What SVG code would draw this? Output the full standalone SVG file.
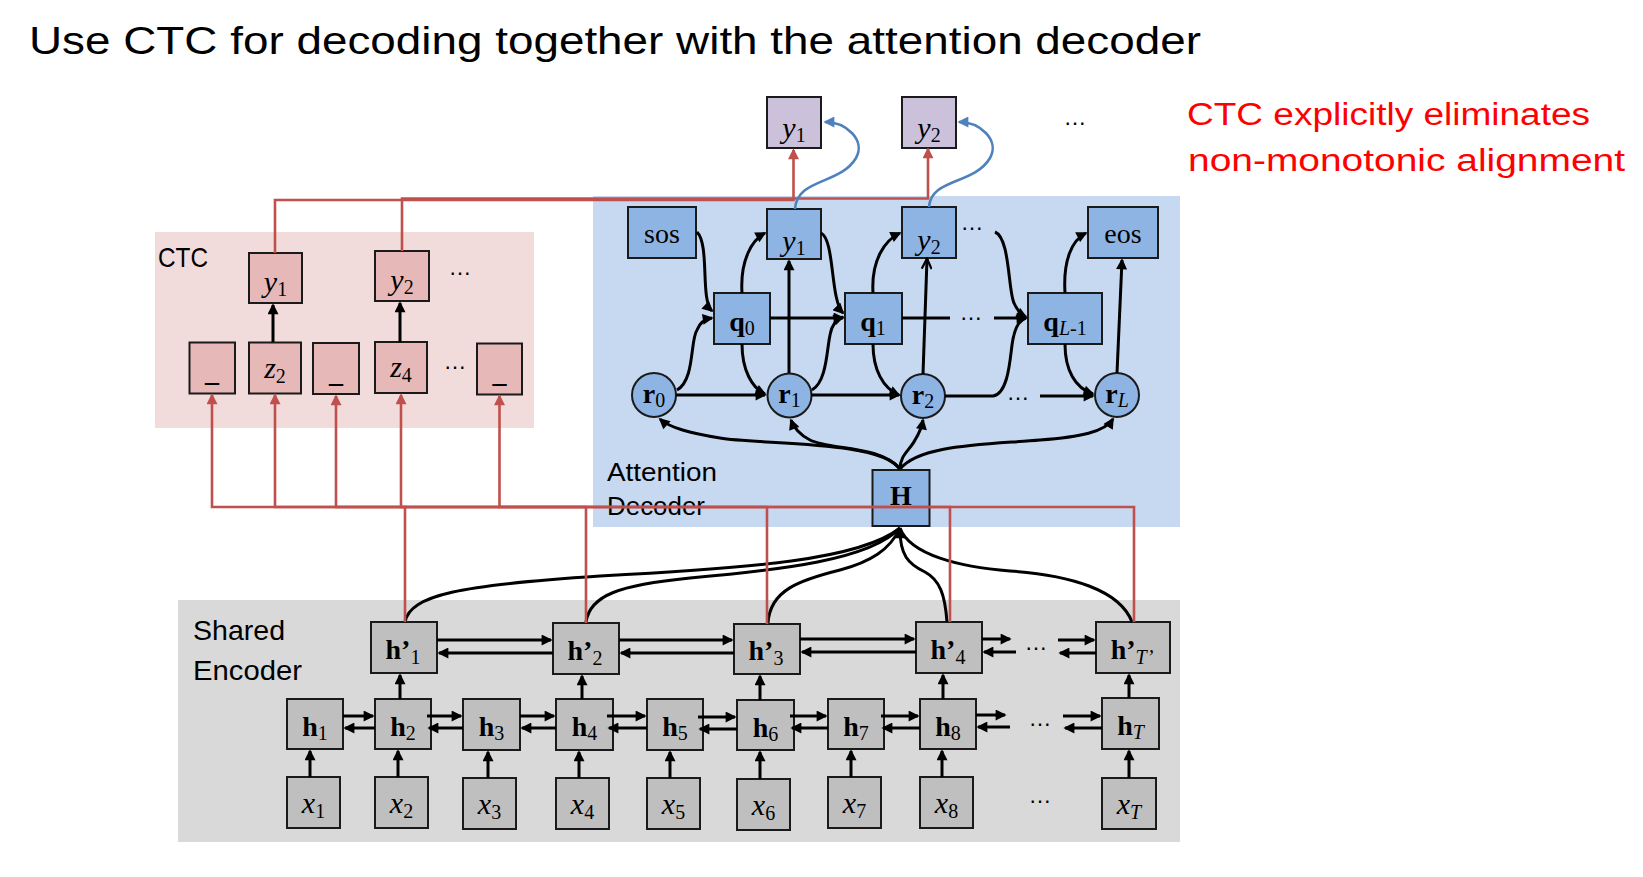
<svg xmlns="http://www.w3.org/2000/svg" width="1643" height="877" viewBox="0 0 1643 877">
<style>
.bgc{fill:#F2DCDB}.bgb{fill:#C6D9F1}.bgg{fill:#D9D9D9}
.nc{fill:#E6B9B8;stroke:#1a1a1a;stroke-width:2}
.nb{fill:#8EB4E3;stroke:#1a1a1a;stroke-width:2}
.ng{fill:#BFBFBF;stroke:#1a1a1a;stroke-width:2}
.np{fill:#CCC1DA;stroke:#1a1a1a;stroke-width:2}
.k{stroke:#000;stroke-width:3;fill:none}
.rd{stroke:#C0504D;stroke-width:2.6;fill:none}
.bl{stroke:#4F81BD;stroke-width:2.6;fill:none}
.t{font-family:"Liberation Serif","Times New Roman",serif;font-size:28px;text-anchor:middle;fill:#000}
.b{font-weight:bold}.i{font-style:italic;font-size:30px}
.s{font-size:20px;font-weight:normal;font-style:normal}
.si{font-size:20px;font-weight:normal;font-style:italic}
.sans{font-family:"Liberation Sans",Arial,sans-serif;fill:#000}
.dots{font-family:"Liberation Sans",Arial,sans-serif;font-size:23px;text-anchor:middle;fill:#000}
</style>
<defs>
<marker id="ak" viewBox="0 0 10 10" refX="8.5" refY="5" markerWidth="12" markerHeight="11" markerUnits="userSpaceOnUse" orient="auto"><path d="M0,0L10,5L0,10z" fill="#000"/></marker>
<marker id="ao" viewBox="0 0 10 10" refX="9" refY="5" markerWidth="12" markerHeight="11" markerUnits="userSpaceOnUse" orient="auto"><path d="M0,0.5L9.5,5L0,9.5" fill="none" stroke="#000" stroke-width="2"/></marker>
<marker id="ar" viewBox="0 0 10 10" refX="8.5" refY="5" markerWidth="12" markerHeight="11" markerUnits="userSpaceOnUse" orient="auto"><path d="M0,0L10,5L0,10z" fill="#C0504D"/></marker>
<marker id="ab" viewBox="0 0 10 10" refX="8.5" refY="5" markerWidth="12" markerHeight="11" markerUnits="userSpaceOnUse" orient="auto"><path d="M0,0L10,5L0,10z" fill="#4F81BD"/></marker>
</defs>
<rect width="1643" height="877" fill="#fff"/>

<text class="sans" x="29" y="54" font-size="39" textLength="1172" lengthAdjust="spacingAndGlyphs">Use CTC for decoding together with the attention decoder</text>
<g fill="#FF0000" font-family="Liberation Sans, Arial, sans-serif" font-size="31">
<text x="1187" y="125" textLength="403" lengthAdjust="spacingAndGlyphs">CTC explicitly eliminates</text>
<text x="1188" y="171" textLength="437" lengthAdjust="spacingAndGlyphs">non-monotonic alignment</text>
</g>

<g id="backgrounds">
<rect class="bgc" x="155" y="232" width="379" height="196"/>
<rect class="bgb" x="593" y="196" width="587" height="331"/>
<rect class="bgg" x="178" y="600" width="1002" height="242"/>
<text class="sans" x="158" y="267" font-size="28" textLength="50" lengthAdjust="spacingAndGlyphs">CTC</text>
<text class="sans" x="607" y="481" font-size="25" textLength="110" lengthAdjust="spacingAndGlyphs">Attention</text>
<text class="sans" x="607" y="515" font-size="25" textLength="98" lengthAdjust="spacingAndGlyphs">Decoder</text>
<text class="sans" x="193" y="640" font-size="28" textLength="92" lengthAdjust="spacingAndGlyphs">Shared</text>
<text class="sans" x="193" y="680" font-size="28" textLength="109" lengthAdjust="spacingAndGlyphs">Encoder</text>
</g>

<g id="out-y1"><rect class="np" x="767" y="97" width="54" height="51"/><text class="t" x="794" y="138"><tspan class="i">y</tspan><tspan class="s" dy="4">1</tspan></text></g>
<g id="out-y2"><rect class="np" x="902" y="97" width="54" height="51"/><text class="t" x="929" y="138"><tspan class="i">y</tspan><tspan class="s" dy="4">2</tspan></text></g>
<text class="dots" x="1075" y="125">…</text>

<g id="sos"><rect class="nb" x="628" y="207" width="68" height="51"/><text class="t" x="662" y="243" font-size="30">sos</text></g>
<g id="dec-y1"><rect class="nb" x="767" y="209" width="54" height="50"/><text class="t" x="794" y="251"><tspan class="i">y</tspan><tspan class="s" dy="4">1</tspan></text></g>
<g id="dec-y2"><rect class="nb" x="902" y="207" width="54" height="51"/><text class="t" x="929" y="250"><tspan class="i">y</tspan><tspan class="s" dy="4">2</tspan></text></g>
<g id="eos"><rect class="nb" x="1088" y="207" width="70" height="51"/><text class="t" x="1123" y="243" font-size="30">eos</text></g>
<g id="q0"><rect class="nb" x="714" y="293" width="56" height="51"/><text class="t" x="742" y="331"><tspan class="b">q</tspan><tspan class="s" dy="4">0</tspan></text></g>
<g id="q1"><rect class="nb" x="845" y="293" width="57" height="51"/><text class="t" x="873" y="331"><tspan class="b">q</tspan><tspan class="s" dy="4">1</tspan></text></g>
<g id="qL"><rect class="nb" x="1028" y="293" width="74" height="51"/><text class="t" x="1065" y="331"><tspan class="b">q</tspan><tspan class="si" dy="4">L</tspan><tspan class="s">-1</tspan></text></g>
<g id="r0"><circle class="nb" cx="654" cy="395" r="22"/><text class="t" x="654" y="403"><tspan class="b">r</tspan><tspan class="s" dy="4">0</tspan></text></g>
<g id="r1"><circle class="nb" cx="789.5" cy="395.5" r="22"/><text class="t" x="789.5" y="403"><tspan class="b">r</tspan><tspan class="s" dy="4">1</tspan></text></g>
<g id="r2"><circle class="nb" cx="923" cy="396" r="22"/><text class="t" x="923" y="404"><tspan class="b">r</tspan><tspan class="s" dy="4">2</tspan></text></g>
<g id="rL"><circle class="nb" cx="1117" cy="395" r="22"/><text class="t" x="1117" y="403"><tspan class="b">r</tspan><tspan class="si" dy="4">L</tspan></text></g>
<g id="H"><rect class="nb" x="872.5" y="470" width="57" height="56"/><text class="t b" x="901" y="505">H</text></g>
<text class="dots" x="972" y="230">…</text>
<text class="dots" x="971" y="320">…</text>
<text class="dots" x="1018" y="400">…</text>

<g id="ctc-y1"><rect class="nc" x="249" y="253" width="53" height="50"/><text class="t" x="275.5" y="292"><tspan class="i">y</tspan><tspan class="s" dy="4">1</tspan></text></g>
<g id="ctc-y2"><rect class="nc" x="375" y="251" width="54" height="50"/><text class="t" x="402" y="290"><tspan class="i">y</tspan><tspan class="s" dy="4">2</tspan></text></g>
<g id="ctc-b1"><rect class="nc" x="189.5" y="342.5" width="45.5" height="51"/><text class="t b" x="212" y="381" font-size="30">_</text></g>
<g id="ctc-z2"><rect class="nc" x="249" y="342.5" width="52" height="51"/><text class="t" x="275" y="378"><tspan class="i">z</tspan><tspan class="s" dy="5">2</tspan></text></g>
<g id="ctc-b3"><rect class="nc" x="313" y="343" width="46" height="51"/><text class="t b" x="336" y="382" font-size="30">_</text></g>
<g id="ctc-z4"><rect class="nc" x="375" y="342" width="52" height="51"/><text class="t" x="401" y="377"><tspan class="i">z</tspan><tspan class="s" dy="5">4</tspan></text></g>
<g id="ctc-b5"><rect class="nc" x="477" y="343.5" width="45" height="51"/><text class="t b" x="499.5" y="382" font-size="30">_</text></g>
<text class="dots" x="460" y="275">…</text>
<text class="dots" x="455" y="369">…</text>

<g id="hp1"><rect class="ng" x="371" y="622" width="66" height="51"/><text class="t" x="403" y="659"><tspan class="b">h’</tspan><tspan class="s" dy="5">1</tspan></text></g>
<g id="hp2"><rect class="ng" x="553" y="623" width="66" height="51"/><text class="t" x="585" y="660"><tspan class="b">h’</tspan><tspan class="s" dy="5">2</tspan></text></g>
<g id="hp3"><rect class="ng" x="734" y="624" width="66" height="50"/><text class="t" x="766" y="660"><tspan class="b">h’</tspan><tspan class="s" dy="5">3</tspan></text></g>
<g id="hp4"><rect class="ng" x="916" y="622" width="66" height="51"/><text class="t" x="948" y="659"><tspan class="b">h’</tspan><tspan class="s" dy="5">4</tspan></text></g>
<g id="hpT"><rect class="ng" x="1096" y="622" width="74" height="51"/><text class="t" x="1132" y="659"><tspan class="b">h’</tspan><tspan class="si" dy="5">T’</tspan></text></g>
<text class="dots" x="1036" y="650">…</text>

<g id="h1"><rect class="ng" x="287" y="699" width="56" height="50"/><text class="t" x="315" y="736"><tspan class="b">h</tspan><tspan class="s" dy="4">1</tspan></text></g>
<g id="h2"><rect class="ng" x="375" y="699" width="56" height="50"/><text class="t" x="403" y="736"><tspan class="b">h</tspan><tspan class="s" dy="4">2</tspan></text></g>
<g id="h3"><rect class="ng" x="463" y="699" width="57" height="51"/><text class="t" x="491.5" y="736"><tspan class="b">h</tspan><tspan class="s" dy="4">3</tspan></text></g>
<g id="h4"><rect class="ng" x="556" y="699" width="57" height="51"/><text class="t" x="584.5" y="736"><tspan class="b">h</tspan><tspan class="s" dy="4">4</tspan></text></g>
<g id="h5"><rect class="ng" x="647" y="699" width="56" height="51"/><text class="t" x="675" y="736"><tspan class="b">h</tspan><tspan class="s" dy="4">5</tspan></text></g>
<g id="h6"><rect class="ng" x="737" y="700" width="57" height="50"/><text class="t" x="765.5" y="737"><tspan class="b">h</tspan><tspan class="s" dy="4">6</tspan></text></g>
<g id="h7"><rect class="ng" x="828" y="699" width="56" height="50"/><text class="t" x="856" y="736"><tspan class="b">h</tspan><tspan class="s" dy="4">7</tspan></text></g>
<g id="h8"><rect class="ng" x="920" y="699" width="56" height="50"/><text class="t" x="948" y="736"><tspan class="b">h</tspan><tspan class="s" dy="4">8</tspan></text></g>
<g id="hT"><rect class="ng" x="1102" y="698" width="57" height="51"/><text class="t" x="1130.5" y="735"><tspan class="b">h</tspan><tspan class="si" dy="4">T</tspan></text></g>
<text class="dots" x="1040" y="726">…</text>

<g id="x1"><rect class="ng" x="287" y="777" width="53" height="51"/><text class="t" x="313.5" y="813"><tspan class="i">x</tspan><tspan class="s" dy="5">1</tspan></text></g>
<g id="x2"><rect class="ng" x="375" y="777" width="53" height="51"/><text class="t" x="401.5" y="813"><tspan class="i">x</tspan><tspan class="s" dy="5">2</tspan></text></g>
<g id="x3"><rect class="ng" x="463" y="778" width="53" height="51"/><text class="t" x="489.5" y="814"><tspan class="i">x</tspan><tspan class="s" dy="5">3</tspan></text></g>
<g id="x4"><rect class="ng" x="556" y="778" width="53" height="51"/><text class="t" x="582.5" y="814"><tspan class="i">x</tspan><tspan class="s" dy="5">4</tspan></text></g>
<g id="x5"><rect class="ng" x="647" y="778" width="53" height="51"/><text class="t" x="673.5" y="814"><tspan class="i">x</tspan><tspan class="s" dy="5">5</tspan></text></g>
<g id="x6"><rect class="ng" x="737" y="779" width="53" height="51"/><text class="t" x="763.5" y="815"><tspan class="i">x</tspan><tspan class="s" dy="5">6</tspan></text></g>
<g id="x7"><rect class="ng" x="828" y="777" width="53" height="51"/><text class="t" x="854.5" y="813"><tspan class="i">x</tspan><tspan class="s" dy="5">7</tspan></text></g>
<g id="x8"><rect class="ng" x="920" y="777" width="53" height="51"/><text class="t" x="946.5" y="813"><tspan class="i">x</tspan><tspan class="s" dy="5">8</tspan></text></g>
<g id="xT"><rect class="ng" x="1102" y="778" width="54" height="51"/><text class="t" x="1129" y="814"><tspan class="i">x</tspan><tspan class="si" dy="5">T</tspan></text></g>
<text class="dots" x="1040" y="803">…</text>

<g id="connectors">
<g class="k" marker-end="url(#ak)">
<path d="M697 232 C710 245,700 300,712 311"/>
<path d="M677 390 C695 380,690 340,697 330 C700 322,705 319,712 318"/>
<path d="M742 293 C740 260,752 240,765 233"/>
<path d="M742 344 C742 370,752 388,765 394"/>
<path d="M676 395 H765"/>
<path d="M789 373 V261"/>
<path d="M821 233 C835 240,830 300,843 313"/>
<path d="M812 390 C830 380,826 335,833 326 C836 320,840 318,843 317"/>
<path d="M770 318 H843"/>
<path d="M873 293 C871 260,885 240,900 233"/>
<path d="M873 344 C873 370,883 388,899 395"/>
<path d="M811 395 H899"/>
<path d="M994 318 H1026"/>
<path d="M995 232 C1010 238,1008 290,1014 303 C1017 310,1020 314,1026 317"/>
<path d="M945 396 H993 C1008 394,1010 360,1012 345 C1014 330,1018 320,1026 318"/>
<path d="M1040 396 H1093"/>
<path d="M1065 293 C1063 260,1072 240,1086 233"/>
<path d="M1065 344 C1065 370,1075 388,1093 394"/>
<path d="M1117 373 L1122 260"/>
<path d="M900 469 C880 440,760 445,720 438 C690 433,670 428,660 419"/>
<path d="M900 469 C880 445,830 450,810 440 C800 435,794 428,791 420"/>
<path d="M900 469 C900 455,910 450,915 440 C920 432,922 426,923 420"/>
<path d="M900 469 C920 445,980 445,1040 440 C1080 437,1105 432,1113 419"/>
<path d="M947 622 C945 595,940 580,925 572 C908 564,900 555,900 529"/>
</g>
<path class="k" d="M923 374 L927 259" marker-end="url(#ao)"/>
<path class="k" d="M902 318 H950"/>
<g class="k">
<path d="M405 622 C410 595,460 585,600 576 C750 568,860 560,900 528"/>
<path d="M586 622 C590 595,620 585,690 578 C780 570,870 560,900 528"/>
<path d="M768 623 C770 590,800 580,840 570 C870 562,890 550,900 528"/>
<path d="M1132 622 C1120 590,1070 575,1010 571 C960 567,910 555,900 528"/>
</g>
<g class="k" marker-end="url(#ak)">
<path d="M273 342 V305"/>
<path d="M400 342 V303"/>
<path d="M310 777 V751"/><path d="M398 777 V751"/><path d="M488 778 V752"/><path d="M579 778 V752"/><path d="M670 778 V752"/><path d="M760 779 V752"/><path d="M851 777 V751"/><path d="M942 777 V751"/><path d="M1129 778 V751"/>
<path d="M400 699 V675"/><path d="M582 699 V676"/><path d="M760 700 V676"/><path d="M943 699 V675"/><path d="M1129 698 V675"/>
<path d="M343 716 H373"/><path d="M375 728 H345"/>
<path d="M427 716 H461"/><path d="M463 728 H429"/>
<path d="M520 716 H554"/><path d="M556 728 H522"/>
<path d="M607 716 H645"/><path d="M647 728 H609"/>
<path d="M698 717 H735"/><path d="M737 729 H700"/>
<path d="M790 716 H826"/><path d="M828 728 H792"/>
<path d="M881 716 H918"/><path d="M920 728 H883"/>
<path d="M976 715 H1005"/><path d="M1010 727 H978"/>
<path d="M1063 716 H1100"/><path d="M1102 728 H1065"/>
<path d="M437 640 H551"/><path d="M553 653 H439"/>
<path d="M619 640 H732"/><path d="M734 653 H621"/>
<path d="M800 639 H914"/><path d="M916 652 H802"/>
<path d="M982 639 H1010"/><path d="M1016 652 H984"/>
<path d="M1058 640 H1094"/><path d="M1096 653 H1060"/>
</g>
<g class="rd" marker-end="url(#ar)">
<path d="M405 622 V507 H212 V395"/>
<path d="M586 623 V507 H275 V395"/>
<path d="M767 624 V507 H336 V396"/>
<path d="M950 622 V507 H401 V395"/>
<path d="M1134 622 V507 H499.5 V396"/>
<path d="M275 253 V200 H793.5 V150"/>
<path d="M402 251 V198.5 H928 V149"/>
</g>
<g class="bl" marker-end="url(#ab)">
<path d="M795 209 C797 178,840 185,856 158 C866 140,846 122,825 122"/>
<path d="M929 207 C931 178,974 185,990 158 C1000 140,980 122,959 122"/>
</g>
</g>
</svg>
